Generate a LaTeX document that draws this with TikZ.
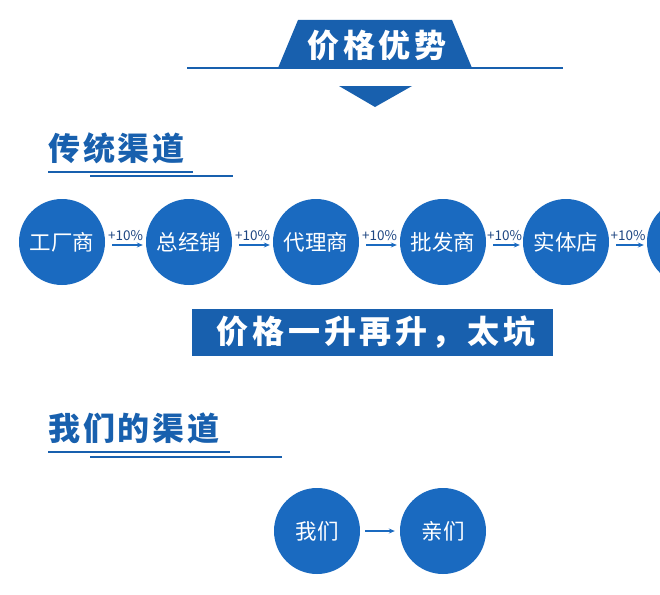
\documentclass[tikz,border=0pt]{standalone}
\usepackage{fontspec}
\setmainfont{Noto Sans CJK SC}
\usetikzlibrary{arrows.meta}
\definecolor{cblue}{RGB}{26,106,192}
\definecolor{bblue}{RGB}{24,96,174}
\definecolor{lblue}{RGB}{30,70,130}
\begin{document}
\begin{tikzpicture}[x=1pt,y=-1pt,
  circ/.style={circle,fill=cblue,minimum size=86pt,inner sep=0pt,text=white,font=\fontsize{21.5}{21.5}\selectfont},
  flow/.style={-{Stealth[length=6pt,width=5pt]},cblue,line width=1.3pt,shorten <=7pt,shorten >=3pt},
  pct/.style={font=\fontsize{13.5}{13.5}\selectfont,text=lblue,above=0pt},
  heading/.style={anchor=west,inner sep=0pt,text=bblue,font=\fontsize{32}{32}\bfseries\addfontfeatures{LetterSpace=9}},
  banner/.style={inner sep=0pt,text=white,font=\fontsize{32}{32}\bfseries\addfontfeatures{LetterSpace=12}},
  rule/.style={draw=bblue}]
\useasboundingbox (0,0) rectangle (660,594);
\clip (0,0) rectangle (660,594);
\fill[white] (0,0) rectangle (660,594);
% title
\fill[bblue] (278,68) -- (298,20) -- (452,20) -- (472,68) -- cycle;
\draw[rule,line width=2pt] (187,68) -- (563,68);
\node[banner] (title) at (377,45) {价格优势};
\fill[bblue] (339,86) -- (412,86) -- (375,107) -- cycle;
% traditional channel
\node[heading] (h1) at (48,148) {传统渠道};
\draw[rule,line width=2pt] (48,172) -- (193,172);
\draw[rule,line width=1.5pt] (90,176) -- (233,176);
\node[circ] (c1) at (62,242) {工厂商};
\node[circ] (c2) at (189,242) {总经销};
\node[circ] (c3) at (316,242) {代理商};
\node[circ] (c4) at (443,242) {批发商};
\node[circ] (c5) at (566,242) {实体店};
\node[circ] (c6) at (690,242) {};
\foreach \a/\b in {c1/c2,c2/c3,c3/c4,c4/c5,c5/c6}
  \draw[flow] ([yshift=-3pt]\a.east) -- node[pct] {+10\%} ([yshift=-3pt]\b.west);
\fill[bblue] (192,309) rectangle (553,356);
\node[banner] (b2) at (376,332) {价格一升再升，太坑};
% our channel
\node[heading] (h2) at (48,428) {我们的渠道};
\draw[rule,line width=2pt] (48,452) -- (230,452);
\draw[rule,line width=1.5pt] (90,457) -- (282,457);
\node[circ] (w1) at (317,531) {我们};
\node[circ] (w2) at (443,531) {亲们};
\draw[flow,shorten <=5pt,shorten >=5pt] (w1) -- (w2);
\end{tikzpicture}
\end{document}
